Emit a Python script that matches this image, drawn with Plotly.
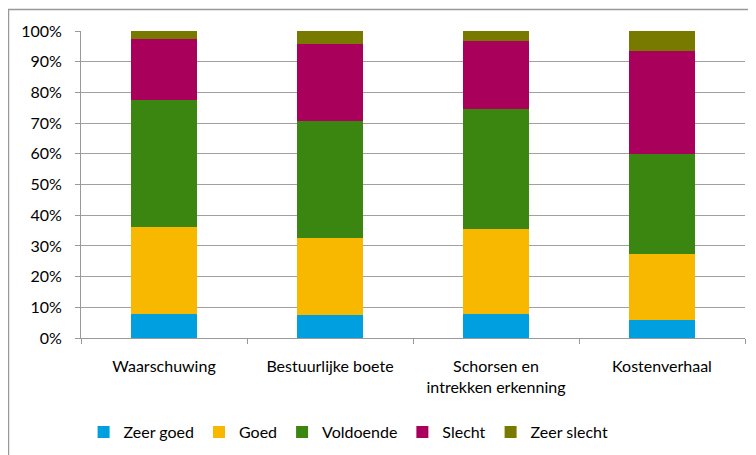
import plotly.graph_objects as go

categories = ["Waarschuwing", "Bestuurlijke boete", "Schorsen en<br>intrekken erkenning", "Kostenverhaal"]
series_names = ["Zeer goed", "Goed", "Voldoende", "Slecht", "Zeer slecht"]
zeer_goed = [7.9, 7.4, 7.9, 6.0]
goed = [28.2, 25.3, 27.6, 21.3]
voldoende = [41.4, 37.9, 39.0, 32.7]
slecht = [19.9, 25.3, 22.4, 33.6]
zeer_slecht = [2.6, 4.1, 3.1, 6.4]
colors = ["#00A0E0", "#F9B800", "#3B8610", "#A9005C", "#787A00"]
y_ticks = list(range(0, 101, 10))
y_tick_labels = [f"{v}%" for v in y_ticks]

font_family = "Lato, 'Open Sans', sans-serif"

fig = go.Figure()
for name, vals, col in zip(series_names, [zeer_goed, goed, voldoende, slecht, zeer_slecht], colors):
    fig.add_trace(go.Bar(x=categories, y=vals, name=name, marker=dict(color=col, line=dict(width=0))))

fig.update_layout(
    barmode="stack",
    bargap=0.605,
    width=748, height=447,
    margin=dict(l=73, r=11, t=23, b=117),
    paper_bgcolor="white", plot_bgcolor="white",
    font=dict(family=font_family, size=16, color="#000000"),
    showlegend=True,
    legend=dict(orientation="h", x=0.403, xanchor="center", yref="container", y=0.0515, yanchor="middle",
                font=dict(size=16, color="#000000"), traceorder="normal", itemwidth=30),
    xaxis=dict(showline=True, linecolor="#999999", linewidth=1, ticks="outside", ticklen=5,
               tickcolor="#999999", tickson="boundaries", ticklabelstandoff=14, showgrid=False,
               automargin=False),
    yaxis=dict(range=[0, 100], tickvals=y_ticks, ticktext=y_tick_labels, showgrid=True,
               gridcolor="#A0A0A0", gridwidth=1, showline=True, linecolor="#999999", linewidth=1,
               ticks="outside", ticklen=5, tickcolor="#999999", ticklabelstandoff=10, zeroline=False,
               automargin=False),
    shapes=[dict(type="rect", xref="paper", yref="paper", x0=-0.1092, x1=1.05, y0=-0.45, y1=1.070,
                 line=dict(color="#999999", width=1.5), fillcolor="rgba(0,0,0,0)", layer="below")],
)

fig.write_html("out.html")
